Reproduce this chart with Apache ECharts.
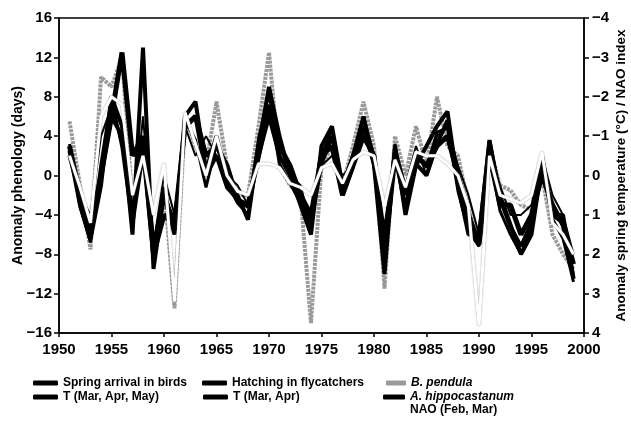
<!DOCTYPE html>
<html><head><meta charset="utf-8">
<script src="https://cdn.jsdelivr.net/npm/echarts@6/dist/echarts.min.js"></script>
<style>html,body{margin:0;padding:0;background:#fff}#c{width:631px;height:437px}</style>
</head><body><div id="c"></div>
<script>
var years = [];
for (var y = 1951; y <= 1999; y++) years.push(y);

// phenology anomalies (days), left axis
var springArrival = [2.5,-3,-6.5,-1,8,5,-6,13,-9.5,-2,-6,6,7.5,0.5,4,-0.5,-2,-4.5,3,9,4,0,-3,-6,3,5,-1,2,6,1,-10,3,-4,1,3,5,6.5,-1,-6,-6,3.5,-2,-5,-8,-6,1,-4,-4,-10.5];
var hatching = [3,-2,-5,0,6,12.5,2,4,-8,-4,-5,5,6,2,3,1,-2.5,-3,2,7,3,1,-2,-4,2,3,-2,1,4,2,-8,2,-2,2,1,3,4,0,-4,-7,2,-3,-3,-6,-4,0,-3,-5,-9];
var bPendula = [5.5,-1,-7.5,10,9,12,-3,3,-8,-1,-13.5,6,3,1,7.5,1,-2,-2,5,12.5,1,-1,-2,-15,1,3,-1,3,7.5,3,-11.5,4,0,5,1,8,3,2,-3,-7,3,-1,-1.5,-3,-3.5,0,-6,-8,-9.5];
var aHippo = [2,-2,-4,4,7,3,-5,6,-7,0,-4,5,2,4,2,0,-1,-3,4,8,2,0,-1,-5,1,2,0,1,5,2,-6,3,-1,3,0,4,5,1,-2,-6,2.5,-1,-4,-4,-3,2,-2,-4,-8];
// temperature anomalies (°C) and NAO index, right axis (inverted)
var tMAM = [-0.5,0.5,1.5,0,-1.5,-1,1,-0.8,1.8,0.5,1.2,-1.2,-1.5,0,-0.5,0.3,0.6,0.8,-0.5,-1.5,-0.5,0,0.5,1.2,-0.3,-1,0.3,-0.5,-1.2,-0.3,1.5,-0.5,0.8,-0.3,0,-0.8,-1.4,0.2,1.2,1.6,-0.9,0.6,1.3,1.8,1.2,-0.5,1,1.2,2.6];
var tMA = [-0.8,0.8,1.7,-0.3,-2,-0.7,1.3,-0.5,2.2,0.3,1.4,-1.4,-0.9,0.3,-0.8,0.2,0.7,1,-0.7,-1.8,-0.3,0.2,0.7,1.4,-0.5,-1.2,0.5,-0.2,-1.5,-0.5,1.8,-0.8,1,-0.6,-0.2,-1.1,-1.2,0.4,1.4,1.8,-0.6,0.9,1.5,2,1.3,-0.3,1.1,1.6,2.7];
var nao = [-0.5,0.3,1.2,-1.5,-2,-1.8,0.5,-0.5,1,-0.3,3.2,-1.6,-0.8,0,-1,0,0.4,0.5,-0.3,-0.3,-0.2,0.2,0.3,0.5,-0.2,-0.3,0.2,-0.4,-0.6,-0.5,0.8,-0.4,0.3,-0.6,-0.5,-0.5,-0.3,0,0.8,3.8,-0.5,0.5,0.6,0.7,0.5,-0.6,1.2,1.5,2];

var leftTicks = {min:-16, max:16, interval:4};
var rightTicks = {min:-4, max:4, interval:1};
var xTicks = {min:1950, max:2000, interval:5};

function pairs(arr){ return arr.map(function(v,i){ return [years[i], v]; }); }
var FONT = 'Liberation Sans';
function minus(v){ return String(v).replace('-', '\u2212'); }

var chart = echarts.init(document.getElementById('c'), null, {renderer:'canvas'});
function lg(name, left, top, italic, iw){
  return {data:[name], left:left, top:top, padding:0, itemWidth: iw===undefined?25:iw, itemHeight:5,
    icon:'roundRect', selectedMode:false,
    textStyle:{fontFamily:FONT, fontSize:12, fontWeight:'bold', color:'#000', fontStyle: italic?'italic':'normal'}};
}
var tickFont = {fontFamily:FONT, fontSize:15, fontWeight:'bold', color:'#000'};
var option = {
  animation:false,
  backgroundColor:'#fff',
  grid:{left:59, right:47, top:18, bottom:104, containLabel:false, outerBoundsMode:'none',
        show:true, borderColor:'#000', borderWidth:1.5, backgroundColor:'transparent'},
  xAxis:{type:'value', min:xTicks.min, max:xTicks.max, interval:xTicks.interval,
    axisLine:{onZero:false, lineStyle:{color:'#000', width:1.5}}, axisTick:{length:4, lineStyle:{color:'#000', width:1.5}},
    splitLine:{show:false},
    axisLabel:Object.assign({margin:9, formatter:function(v){return String(v);}}, tickFont)},
  yAxis:[
    {type:'value', min:leftTicks.min, max:leftTicks.max, interval:leftTicks.interval, position:'left',
     name:'Anomaly phenology (days)', nameLocation:'middle', nameGap:34, nameRotate:90, nameMoveOverlap:false,
     nameTextStyle:{fontFamily:FONT, fontSize:14, fontWeight:'bold', color:'#000'},
     axisLine:{show:true, onZero:false, lineStyle:{color:'#000', width:1.5}}, axisTick:{show:true, length:5, lineStyle:{color:'#000', width:1.5}},
     splitLine:{show:false},
     axisLabel:Object.assign({margin:7, formatter:minus}, tickFont)},
    {type:'value', min:rightTicks.min, max:rightTicks.max, interval:rightTicks.interval, position:'right', inverse:true,
     name:'Anomaly spring temperature (\u00b0C) / NAO index', nameLocation:'middle', nameGap:30, nameRotate:90, nameMoveOverlap:false,
     nameTextStyle:{fontFamily:FONT, fontSize:13.5, fontWeight:'bold', color:'#000'},
     axisLine:{show:true, onZero:false, lineStyle:{color:'#000', width:1.5}}, axisTick:{show:true, length:5, lineStyle:{color:'#000', width:1.5}},
     splitLine:{show:false},
     axisLabel:Object.assign({margin:8, formatter:minus}, tickFont)}
  ],
  legend:[
    lg('Spring arrival in birds', 33, 377),
    lg('Hatching in flycatchers', 202, 377),
    lg('B. pendula', 386, 377, true, 20),
    lg('T (Mar, Apr, May)', 33, 391),
    lg('T (Mar, Apr)', 203, 391),
    lg('A. hippocastanum', 383, 391, true, 22),
    lg('NAO (Feb, Mar)', 405, 404, false, 0)
  ],
  series:[
    {name:'B. pendula', type:'line', yAxisIndex:0, data:pairs(bPendula), symbol:'none', z:2,
     lineStyle:{color:'#9a9a9a', width:4, type:[3,1]}, itemStyle:{color:'#9a9a9a'}},
    {name:'A. hippocastanum', type:'line', yAxisIndex:0, data:pairs(aHippo), symbol:'none', z:3,
     lineStyle:{color:'#000', width:2}, itemStyle:{color:'#000'}},
    {name:'Spring arrival in birds', type:'line', yAxisIndex:0, data:pairs(springArrival), symbol:'none', z:3,
     lineStyle:{color:'#000', width:4}, itemStyle:{color:'#000'}},
    {name:'Hatching in flycatchers', type:'line', yAxisIndex:0, data:pairs(hatching), symbol:'none', z:3,
     lineStyle:{color:'#000', width:5}, itemStyle:{color:'#000'}},
    {name:'T (Mar, Apr, May)', type:'line', yAxisIndex:1, data:pairs(tMAM), symbol:'none', z:3,
     lineStyle:{color:'#000', width:4}, itemStyle:{color:'#000'}},
    {name:'T (Mar, Apr)', type:'line', yAxisIndex:1, data:pairs(tMA), symbol:'none', z:3,
     lineStyle:{color:'#000', width:3}, itemStyle:{color:'#000'}},
    {name:'NAO (Feb, Mar)', type:'line', yAxisIndex:1, data:pairs(nao), symbol:'none', z:4,
     lineStyle:{color:'#fff', width:3, shadowColor:'rgba(110,110,110,0.8)', shadowBlur:1.5}, itemStyle:{color:'#fff'}}
  ]
};
chart.setOption(option);
</script>
</body></html>
